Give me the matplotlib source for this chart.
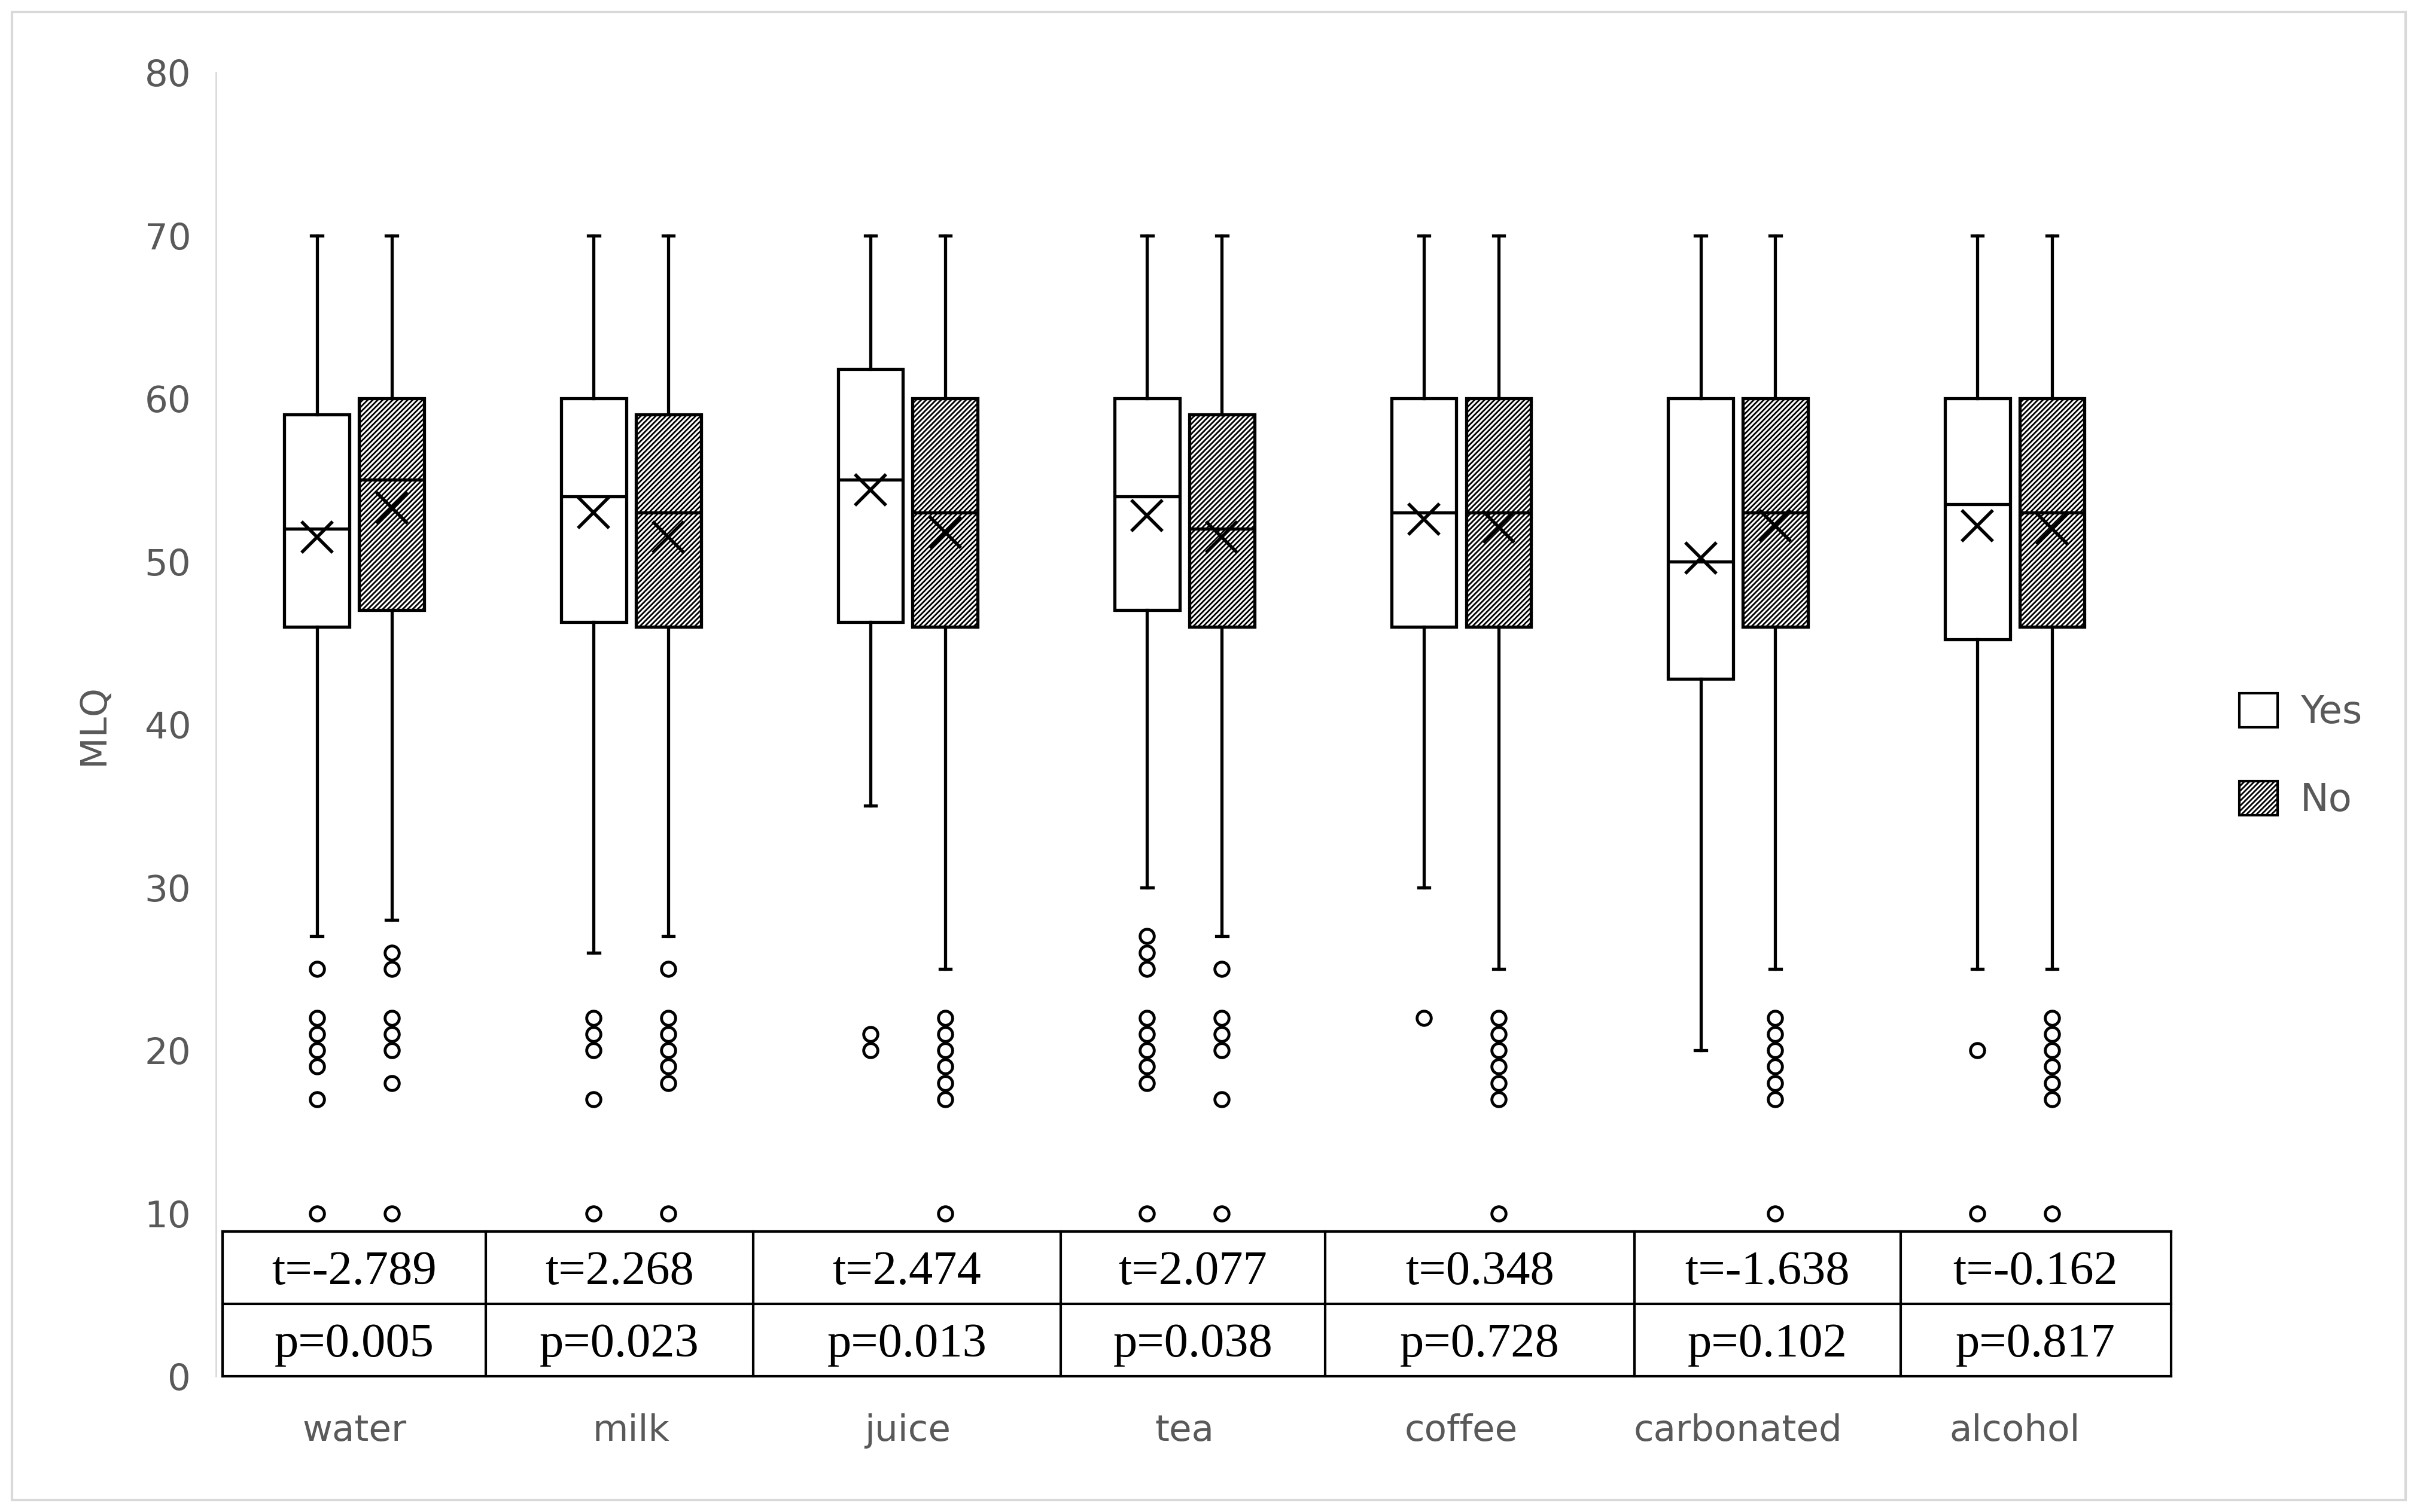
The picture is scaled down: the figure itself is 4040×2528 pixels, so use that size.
import matplotlib
matplotlib.use("Agg")
import matplotlib.pyplot as plt
from matplotlib.patches import Rectangle
import matplotlib.patches as mpatches

categories = ["water", "milk", "juice", "tea", "coffee", "carbonated", "alcohol"]
# per category: (q1, median, q3, mean, whislo, whishi)
yes_stats = [(46, 52, 59, 51.5, 27, 70), (46.3, 54, 60, 53.0, 26, 70), (46.3, 55, 61.8, 54.4, 35, 70),
             (47, 54, 60, 52.8, 30, 70), (46, 53, 60, 52.6, 30, 70), (42.8, 50, 60, 50.2, 20, 70),
             (45.2, 53.5, 60, 52.2, 25, 70)]
no_stats = [(47, 55, 60, 53.3, 28, 70), (46, 53, 59, 51.5, 27, 70), (46, 53, 60, 51.8, 25, 70),
            (46, 52, 59, 51.5, 27, 70), (46, 53, 60, 52.1, 25, 70), (46, 53, 60, 52.2, 25, 70),
            (46, 53, 60, 52.0, 25, 70)]
yes_fliers = [[25, 22, 21, 20, 19, 17, 10], [22, 21, 20, 17, 10], [21, 20],
              [27, 26, 25, 22, 21, 20, 19, 18, 10], [22], [], [20, 10]]
no_fliers = [[26, 25, 22, 21, 20, 18, 10], [25, 22, 21, 20, 19, 18, 10], [22, 21, 20, 19, 18, 17, 10],
             [25, 22, 21, 20, 17, 10], [22, 21, 20, 19, 18, 17, 10], [22, 21, 20, 19, 18, 17, 10],
             [22, 21, 20, 19, 18, 17, 10]]
t_values = ["t=-2.789", "t=2.268", "t=2.474", "t=2.077", "t=0.348", "t=-1.638", "t=-0.162"]
p_values = ["p=0.005", "p=0.023", "p=0.013", "p=0.038", "p=0.728", "p=0.102", "p=0.817"]
yticks = [0, 10, 20, 30, 40, 50, 60, 70, 80]

plt.rcParams['hatch.linewidth'] = 2.0
fig = plt.figure(figsize=(40.41, 25.28), dpi=100)
ax = fig.add_axes([0.0893, 0.0898, 0.8013, 0.8622])
gray = "#595959"

def mk(s, fl):
    return dict(q1=s[0], med=s[1], q3=s[2], mean=s[3], whislo=s[4], whishi=s[5], fliers=fl)

lw = 3.8
off = 0.135
width = 0.235
for i in range(len(categories)):
    for stats, fl, dx, hatch in ((yes_stats, yes_fliers, -off, None), (no_stats, no_fliers, off, '////')):
        b = ax.bxp([mk(stats[i], fl[i])], positions=[i + dx], widths=width, showmeans=True,
                   patch_artist=True, showcaps=True,
                   boxprops=dict(facecolor='white', edgecolor='black', linewidth=lw, hatch=hatch),
                   medianprops=dict(color='black', linewidth=lw),
                   whiskerprops=dict(color='black', linewidth=lw),
                   capprops=dict(color='black', linewidth=lw),
                   meanprops=dict(marker='x', markeredgecolor='black', markersize=38, markeredgewidth=4),
                   flierprops=dict(marker='o', markerfacecolor='white', markeredgecolor='black',
                                   markersize=17, markeredgewidth=3.5))
        for c in b['caps']:
            xd = c.get_xdata()
            mid = (xd[0] + xd[1]) / 2
            c.set_xdata([mid - 0.02, mid + 0.02])
        if hatch:
            for f in b['fliers']:
                f.set_markerfacecolor('white')

ax.set_xlim(-0.5, 6.5)
ax.set_ylim(0, 80)
ax.set_yticks(yticks)
ax.set_yticklabels([str(v) for v in yticks], fontsize=44, color=gray)
ax.set_xticks(range(len(categories)))
ax.set_xticklabels(categories, fontsize=44, color=gray)
ax.tick_params(axis='both', length=0, pad=30)
ax.tick_params(axis='x', pad=45)
for s in ['top', 'right', 'bottom']:
    ax.spines[s].set_visible(False)
ax.spines['left'].set_color('#d9d9d9')
ax.spines['left'].set_linewidth(2)
ax.set_ylabel("MLQ", fontsize=44, color=gray, labelpad=40)

# table
col_edges = [-0.475, 0.475, 1.441, 2.553, 3.508, 4.626, 5.587, 6.564]
ytop, ymid = 8.9, 4.45
tl = 3
ax.plot([col_edges[0], col_edges[-1]], [ytop, ytop], color='black', lw=tl, clip_on=False)
ax.plot([col_edges[0], col_edges[-1]], [ymid, ymid], color='black', lw=tl, clip_on=False)
ax.plot([col_edges[0], col_edges[-1]], [0, 0], color='black', lw=tl, clip_on=False)
for e in col_edges:
    ax.plot([e, e], [0, ytop], color='black', lw=tl, clip_on=False)
for i in range(len(categories)):
    cx = (col_edges[i] + col_edges[i + 1]) / 2
    ax.text(cx, (ytop + ymid) / 2 - 0.3, t_values[i], ha='center', va='center', fontsize=58,
            family='Liberation Serif', clip_on=False)
    ax.text(cx, ymid / 2 - 0.3, p_values[i], ha='center', va='center', fontsize=58,
            family='Liberation Serif', clip_on=False)

handles = [mpatches.Patch(facecolor='white', edgecolor='black', linewidth=3, label='Yes'),
           mpatches.Patch(facecolor='white', edgecolor='black', linewidth=3, hatch='////', label='No')]
fig.legend(handles=handles, loc='center left', bbox_to_anchor=(0.912, 0.50), frameon=False,
           fontsize=46, labelcolor=gray, handlelength=1.0, handleheight=1.0, labelspacing=1.3,
           handletextpad=0.6)

fig.patches.append(Rectangle((0.005, 0.008), 0.99, 0.984, transform=fig.transFigure,
                             fill=False, edgecolor='#d9d9d9', linewidth=3))
fig.savefig("out.png", dpi=100)
